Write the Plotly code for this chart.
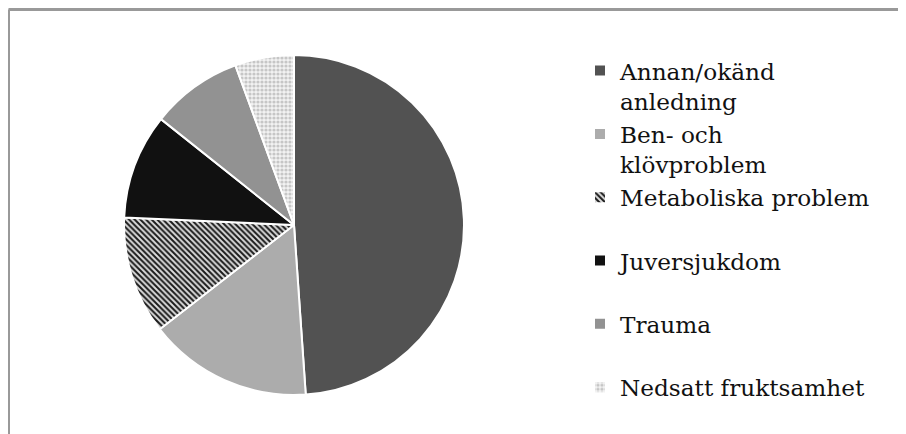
import plotly.graph_objects as go

labels = ["Annan/okänd<br>anledning", "Ben- och<br>klövproblem", "Metaboliska problem<br>&nbsp;",
          "Juversjukdom<br>&nbsp;", "Trauma<br>&nbsp;", "Nedsatt fruktsamhet<br>&nbsp;"]
values = [48.9, 15.6, 11.2, 10.0, 8.7, 5.6]

colors = ["#525252", "#acacac", "#3a3a3a", "#111111", "#929292", "#eeeeee"]
shapes = ["", "", "\\", "", "", "."]
fgcolors = ["#525252", "#acacac", "#1a1a1a", "#111111", "#929292", "#c6c6c6"]
bgcolors = ["#525252", "#acacac", "#dcdcdc", "#111111", "#929292", "#f3f3f3"]
sizes = [5, 5, 4, 5, 5, 4]

W, H = 906, 434
OFF = 8  # page body margin
cx, cy, r = 294 - OFF, 225 - OFF, 170

fig = go.Figure(go.Pie(
    labels=labels, values=values, sort=False, direction="clockwise", rotation=0,
    textinfo="none", hoverinfo="label+percent",
    marker=dict(colors=colors, line=dict(color="white", width=2),
                pattern=dict(shape=shapes, fgcolor=fgcolors, bgcolor=bgcolors,
                             size=sizes, solidity=0.5, fillmode="replace")),
    domain=dict(x=[(cx - r) / W, (cx + r) / W], y=[(H - cy - r) / H, (H - cy + r) / H]),
))

lx, ly = 580 - OFF, 49 - OFF
bx, by = 8.5 - OFF, 9.5 - OFF

fig.update_layout(
    width=W, height=H, margin=dict(l=0, r=0, t=0, b=0),
    paper_bgcolor="white", plot_bgcolor="white",
    legend=dict(x=lx / W, y=1 - ly / H, xanchor="left", yanchor="top", valign="top",
                font=dict(family="DejaVu Serif", size=23.2, color="#111111"),
                bgcolor="rgba(0,0,0,0)", tracegroupgap=0),
    shapes=[
        dict(type="line", xref="paper", yref="paper", x0=bx / W, x1=1, y0=1 - by / H, y1=1 - by / H,
             line=dict(color="#999999", width=3)),
        dict(type="line", xref="paper", yref="paper", x0=bx / W, x1=bx / W, y0=0, y1=1 - by / H,
             line=dict(color="#999999", width=3)),
    ],
)

fig.write_html("out.html")
